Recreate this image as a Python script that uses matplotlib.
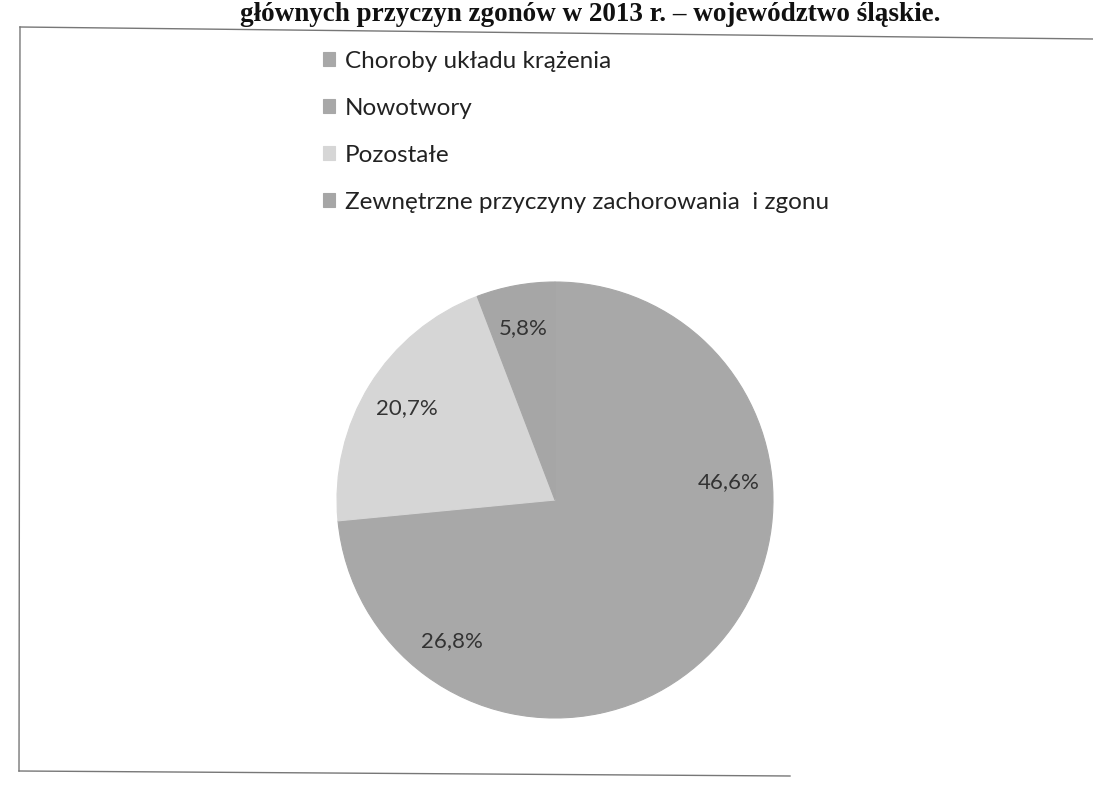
import numpy as np
import matplotlib
matplotlib.use("Agg")
import matplotlib.pyplot as plt
from matplotlib.lines import Line2D

plt.rcParams['font.family'] = ['Lato', 'DejaVu Sans']

categories = ['Choroby układu krążenia', 'Nowotwory', 'Pozostałe',
              'Zewnętrzne przyczyny zachorowania  i zgonu']
values = [46.6, 26.8, 20.7, 5.8]
labels = ['46,6%', '26,8%', '20,7%', '5,8%']
colors = ['#a8a8a8', '#a8a8a8', '#d6d6d6', '#a6a6a6']
title = 'głównych przyczyn zgonów w 2013 r. – województwo śląskie.'

W, H = 1093, 787
fig = plt.figure(figsize=(W / 100, H / 100), dpi=100)

# pie centre (555, 500) px, radius ~218 px
cx, cy, r = 555, 500, 218
ax = fig.add_axes([(cx - r) / W, (H - cy - r) / H, 2 * r / W, 2 * r / H])
wedges, _ = ax.pie(values, colors=colors, startangle=90, counterclock=False,
                   radius=1)
for w in wedges:
    w.set_edgecolor(w.get_facecolor())
    w.set_linewidth(0.8)
ax.set_xlim(-1, 1)
ax.set_ylim(-1, 1)
ax.set_aspect('equal')
ax.axis('off')

for w, lab in zip(wedges, labels):
    ang = np.deg2rad((w.theta1 + w.theta2) / 2)
    ax.text(0.8 * np.cos(ang), 0.8 * np.sin(ang), lab, ha='center', va='center',
            fontsize=16, color='#333333')

fig.legend(wedges, categories, loc='upper left',
           bbox_to_anchor=(301 / W, 1 - 29 / H), frameon=False,
           fontsize=17.5, handlelength=0.5, handleheight=0.5,
           handletextpad=0.4, labelspacing=1.07, labelcolor='#222222')

# title (top of the scanned page)
fig.text(240 / W, 1 - 21 / H, title, ha='left', va='baseline',
         fontsize=19.5, fontweight='bold', family='Liberation Serif', color='#111111')

# chart frame (slightly skewed scan)
fig.add_artist(Line2D([20 / W, 1.0], [1 - 27 / H, 1 - 39 / H], transform=fig.transFigure,
                      color='#777777', lw=1))
fig.add_artist(Line2D([20 / W, 19 / W], [1 - 27 / H, 1 - 771 / H], transform=fig.transFigure,
                      color='#777777', lw=1))
fig.add_artist(Line2D([19 / W, 790 / W], [1 - 771 / H, 1 - 776 / H], transform=fig.transFigure,
                      color='#777777', lw=1))

fig.savefig('out.png', dpi=100)
